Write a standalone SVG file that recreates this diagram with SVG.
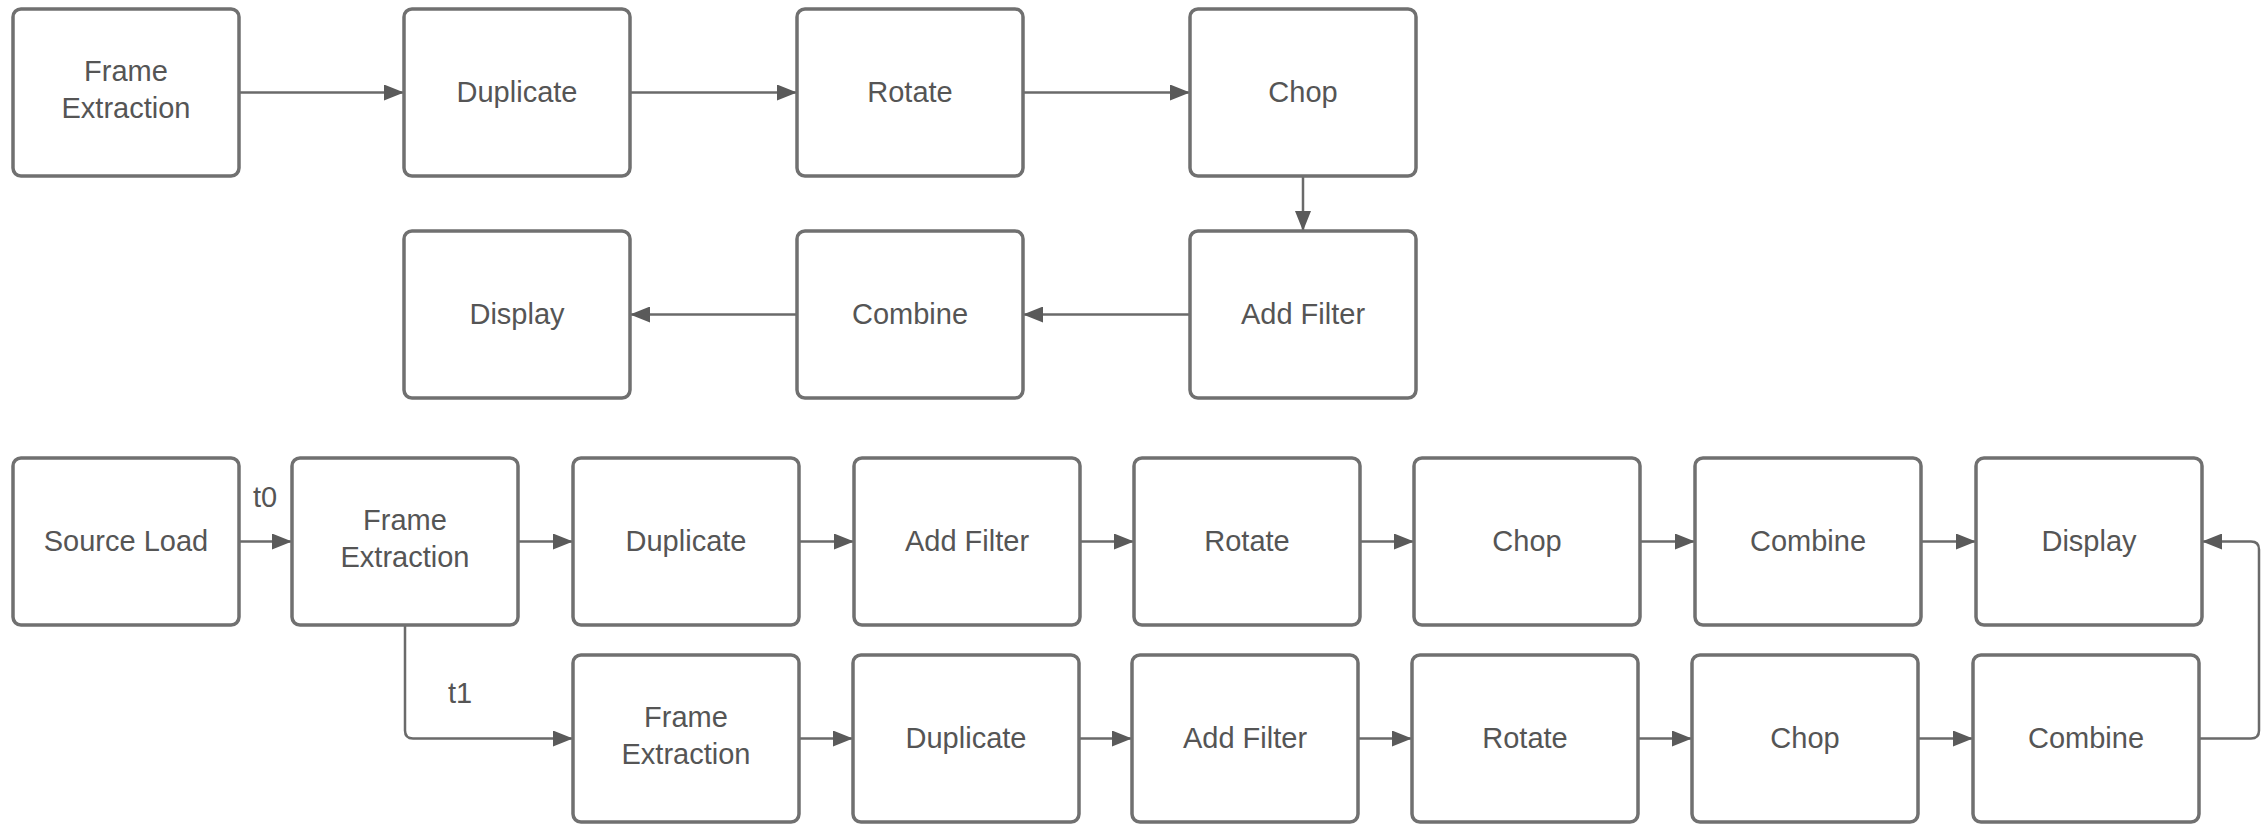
<svg xmlns="http://www.w3.org/2000/svg" width="2264" height="826" viewBox="0 0 2264 826">
<defs>
<style>
.box{fill:#fff;stroke:#707070;stroke-width:3.5}
.lbl{font-family:"Liberation Sans",Arial,sans-serif;font-size:29px;fill:#555;text-anchor:middle}
.con{fill:none;stroke:#6a6a6a;stroke-width:2.5;marker-end:url(#ah)}
</style>
<marker id="ah" markerUnits="userSpaceOnUse" markerWidth="20" markerHeight="16" refX="20" refY="8" orient="auto">
<path d="M0,0 L20,8 L0,16 z" fill="#5a5a5a"/>
</marker>
</defs>
<rect width="2264" height="826" fill="#fff"/>
<g id="connectors">
<line class="con" x1="239" y1="92.5" x2="404" y2="92.5"/>
<line class="con" x1="630" y1="92.5" x2="797" y2="92.5"/>
<line class="con" x1="1023" y1="92.5" x2="1190" y2="92.5"/>
<line class="con" x1="1303" y1="176" x2="1303" y2="231"/>
<line class="con" x1="1190" y1="314.5" x2="1023" y2="314.5"/>
<line class="con" x1="797" y1="314.5" x2="630" y2="314.5"/>
<line class="con" x1="239" y1="541.5" x2="292" y2="541.5"/>
<line class="con" x1="518" y1="541.5" x2="573" y2="541.5"/>
<line class="con" x1="799" y1="541.5" x2="854" y2="541.5"/>
<line class="con" x1="1080" y1="541.5" x2="1134" y2="541.5"/>
<line class="con" x1="1360" y1="541.5" x2="1414" y2="541.5"/>
<line class="con" x1="1640" y1="541.5" x2="1695" y2="541.5"/>
<line class="con" x1="1921" y1="541.5" x2="1976" y2="541.5"/>
<path class="con" d="M405 625 V730.5 Q405 738.5 413 738.5 H573"/>
<line class="con" x1="799" y1="738.5" x2="853" y2="738.5"/>
<line class="con" x1="1079" y1="738.5" x2="1132" y2="738.5"/>
<line class="con" x1="1358" y1="738.5" x2="1412" y2="738.5"/>
<line class="con" x1="1638" y1="738.5" x2="1692" y2="738.5"/>
<line class="con" x1="1918" y1="738.5" x2="1973" y2="738.5"/>
<path class="con" d="M2199 738.5 H2251 Q2259 738.5 2259 730.5 V549.5 Q2259 541.5 2251 541.5 H2202"/>
<text class="lbl" x="265" y="507">t0</text>
<text class="lbl" x="460" y="703">t1</text>
</g>
<g id="r1-frame-extraction"><rect class="box" x="13" y="9" width="226" height="167" rx="8"/><text class="lbl" x="126" y="80.5">Frame</text><text class="lbl" x="126" y="117.5">Extraction</text></g>
<g id="r1-duplicate"><rect class="box" x="404" y="9" width="226" height="167" rx="8"/><text class="lbl" x="517" y="102">Duplicate</text></g>
<g id="r1-rotate"><rect class="box" x="797" y="9" width="226" height="167" rx="8"/><text class="lbl" x="910" y="102">Rotate</text></g>
<g id="r1-chop"><rect class="box" x="1190" y="9" width="226" height="167" rx="8"/><text class="lbl" x="1303" y="102">Chop</text></g>
<g id="r2-display"><rect class="box" x="404" y="231" width="226" height="167" rx="8"/><text class="lbl" x="517" y="324">Display</text></g>
<g id="r2-combine"><rect class="box" x="797" y="231" width="226" height="167" rx="8"/><text class="lbl" x="910" y="324">Combine</text></g>
<g id="r2-add-filter"><rect class="box" x="1190" y="231" width="226" height="167" rx="8"/><text class="lbl" x="1303" y="324">Add Filter</text></g>
<g id="r3-source-load"><rect class="box" x="13" y="458" width="226" height="167" rx="8"/><text class="lbl" x="126" y="551">Source Load</text></g>
<g id="r3-frame-extraction"><rect class="box" x="292" y="458" width="226" height="167" rx="8"/><text class="lbl" x="405" y="529.5">Frame</text><text class="lbl" x="405" y="566.5">Extraction</text></g>
<g id="r3-duplicate"><rect class="box" x="573" y="458" width="226" height="167" rx="8"/><text class="lbl" x="686" y="551">Duplicate</text></g>
<g id="r3-add-filter"><rect class="box" x="854" y="458" width="226" height="167" rx="8"/><text class="lbl" x="967" y="551">Add Filter</text></g>
<g id="r3-rotate"><rect class="box" x="1134" y="458" width="226" height="167" rx="8"/><text class="lbl" x="1247" y="551">Rotate</text></g>
<g id="r3-chop"><rect class="box" x="1414" y="458" width="226" height="167" rx="8"/><text class="lbl" x="1527" y="551">Chop</text></g>
<g id="r3-combine"><rect class="box" x="1695" y="458" width="226" height="167" rx="8"/><text class="lbl" x="1808" y="551">Combine</text></g>
<g id="r3-display"><rect class="box" x="1976" y="458" width="226" height="167" rx="8"/><text class="lbl" x="2089" y="551">Display</text></g>
<g id="r4-frame-extraction"><rect class="box" x="573" y="655" width="226" height="167" rx="8"/><text class="lbl" x="686" y="726.5">Frame</text><text class="lbl" x="686" y="763.5">Extraction</text></g>
<g id="r4-duplicate"><rect class="box" x="853" y="655" width="226" height="167" rx="8"/><text class="lbl" x="966" y="748">Duplicate</text></g>
<g id="r4-add-filter"><rect class="box" x="1132" y="655" width="226" height="167" rx="8"/><text class="lbl" x="1245" y="748">Add Filter</text></g>
<g id="r4-rotate"><rect class="box" x="1412" y="655" width="226" height="167" rx="8"/><text class="lbl" x="1525" y="748">Rotate</text></g>
<g id="r4-chop"><rect class="box" x="1692" y="655" width="226" height="167" rx="8"/><text class="lbl" x="1805" y="748">Chop</text></g>
<g id="r4-combine"><rect class="box" x="1973" y="655" width="226" height="167" rx="8"/><text class="lbl" x="2086" y="748">Combine</text></g>
</svg>
